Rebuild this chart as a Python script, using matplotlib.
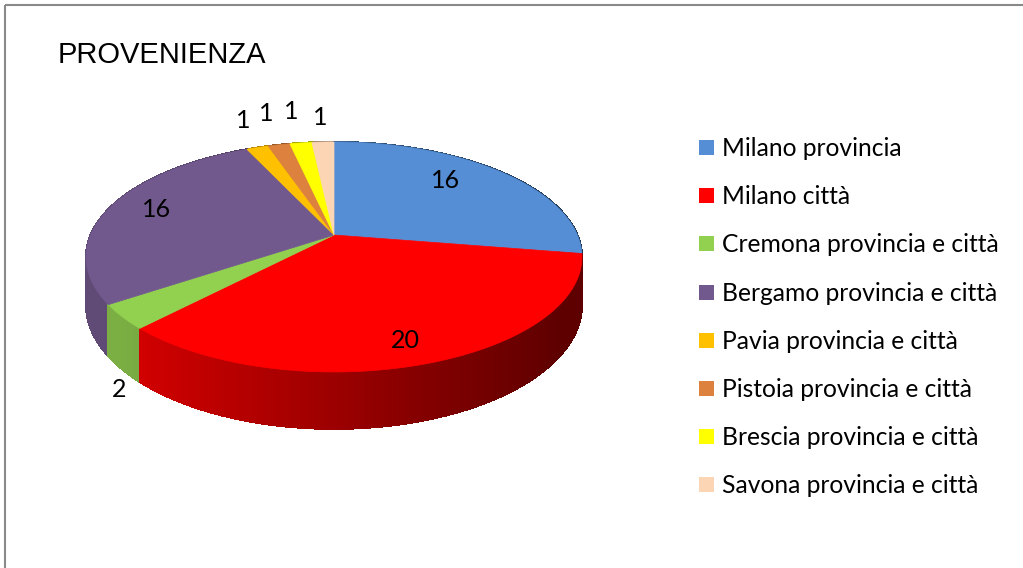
import numpy as np
import matplotlib
matplotlib.use('Agg')
import matplotlib.pyplot as plt
from matplotlib.patches import Polygon, Rectangle
from matplotlib.collections import PolyCollection
from matplotlib.colors import to_rgb

# ---- data ----
title = 'PROVENIENZA'
categories = ['Milano provincia', 'Milano città', 'Cremona provincia e città',
              'Bergamo provincia e città', 'Pavia provincia e città',
              'Pistoia provincia e città', 'Brescia provincia e città',
              'Savona provincia e città']
values = [16, 20, 2, 16, 1, 1, 1, 1]
colors = ['#558ED5', '#FF0000', '#92D050', '#71598D', '#FFC000',
          '#DC823E', '#FFFF00', '#FCD5B5']

# ---- label placement (style) ----
label_r = [0.745, 0.84, 1.08, 0.80, 1.376, 1.438, 1.44, 1.325]
label_dtheta = [-7.0, 1.5, -5.5, 1.7, 1.9, 1.3, 0.3, 0.0]
label_drop = [0, 0, 1, 0, 0, 0, 0, 0]

# ---- geometry (pixels) ----
W, H = 1023, 568
CX, CY = 334, 235
A, B = 243.4, 110.8
K = 0.191
DEPTH = 46


def proj(theta_deg, r=1.0):
    t = np.radians(theta_deg)
    u = r * np.sin(t)
    v = r * np.cos(t)
    w = 1 + K * v
    return CX + A * u / w, CY - B * v / w, w


def shade(x):
    return float(np.clip(0.82 - 0.45 * (x - 140) / 420.0, 0.37, 0.84))


fig = plt.figure(figsize=(W / 100, H / 100), dpi=100)
ax = fig.add_axes([0, 0, 1, 1])
ax.set_xlim(0, W)
ax.set_ylim(H, 0)
ax.axis('off')

total = float(sum(values))
bounds = np.concatenate([[0], np.cumsum(values)]) / total * 360.0

# side walls
strips, scolors, keys = [], [], []
for i, (t1, t2) in enumerate(zip(bounds[:-1], bounds[1:])):
    n = max(2, int(np.ceil((t2 - t1) / 0.5)))
    ts = np.linspace(t1, t2, n + 1)
    base = np.array(to_rgb(colors[i]))
    for a, b in zip(ts[:-1], ts[1:]):
        xa, ya, wa = proj(a)
        xb, yb, wb = proj(b)
        poly = [(xa, ya), (xb, yb), (xb, yb + DEPTH / wb), (xa, ya + DEPTH / wa)]
        strips.append(poly)
        c = tuple(base * shade((xa + xb) / 2))
        scolors.append(c)
        keys.append(np.cos(np.radians((a + b) / 2)))
order = np.argsort(keys)[::-1]
pc = PolyCollection([strips[j] for j in order],
                    facecolors=[scolors[j] for j in order],
                    edgecolors=[scolors[j] for j in order], linewidths=0.8,
                    antialiaseds=False)
ax.add_collection(pc)

# top faces
ax_, ay_, _ = proj(0, 0)
for i, (t1, t2) in enumerate(zip(bounds[:-1], bounds[1:])):
    ts = np.linspace(t1, t2, max(3, int((t2 - t1) / 0.5) + 2))
    pts = [(ax_, ay_)] + [proj(t)[:2] for t in ts]
    ax.add_patch(Polygon(pts, closed=True, facecolor=colors[i],
                         edgecolor=colors[i], linewidth=0.5))

# data labels
for i, (t1, t2) in enumerate(zip(bounds[:-1], bounds[1:])):
    mid = (t1 + t2) / 2 + label_dtheta[i]
    x, y, w = proj(mid, label_r[i])
    y += label_drop[i] * DEPTH / w
    ax.text(x, y, str(values[i]), ha='center', va='center',
            fontsize=18, family='Lato', color='black')

# title
ax.text(58, 63, title, ha='left', va='baseline', fontsize=21,
        family='Liberation Sans', color='black')

# legend
for i, cat in enumerate(categories):
    yb = 156 + i * 48.2
    ax.add_patch(Rectangle((699, yb - 16), 15, 15, facecolor=colors[i],
                           edgecolor='none'))
    ax.text(722, yb, cat, ha='left', va='baseline', fontsize=17.7,
            family='Lato', color='black')

# frame
ax.plot([5, 5], [H, 5], color='#898989', lw=1.5, solid_capstyle='butt')
ax.plot([5, W], [5, 5], color='#898989', lw=1.5, solid_capstyle='butt')

fig.savefig('out.png', dpi=100)
